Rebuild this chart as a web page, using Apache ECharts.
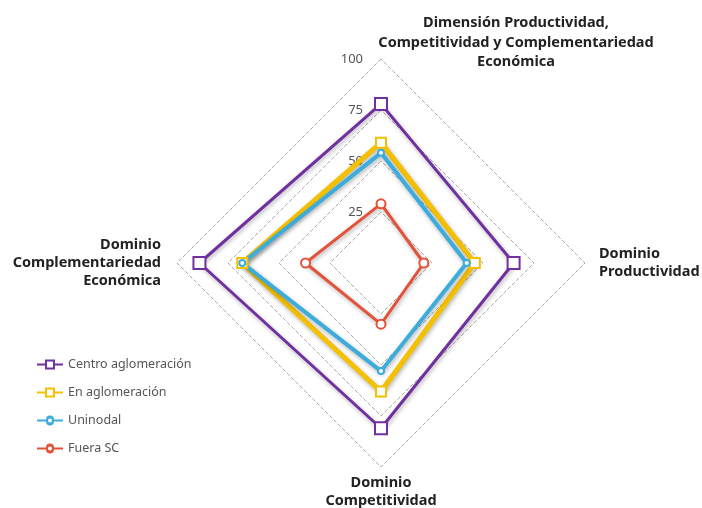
<!DOCTYPE html>
<html>
<head>
<meta charset="utf-8">
<script src="https://cdn.jsdelivr.net/npm/echarts@6/dist/echarts.min.js"></script>
<title>Radar dimensiones</title>
</head>
<body style="margin:0;background:#fff">
<div id="main" style="width:702px;height:508px;"></div>
<script type="text/javascript">
// ejes del radar (orden: arriba, izquierda, abajo, derecha)
var ejes = [
    'Dimensión Productividad,\nCompetitividad y Complementariedad\nEconómica',
    'Dominio\nComplementariedad\nEconómica',
    'Dominio\nCompetitividad',
    'Dominio\nProductividad'
];
var nombres = ['Centro aglomeración', 'En aglomeración', 'Uninodal', 'Fuera SC'];
var centro = [78, 89, 81, 65];
var enAglo = [59, 68, 63, 46];
var uninodal = [54, 68, 53, 42];
var fuera = [29, 37, 30, 21];
var colores = ['#7030a0', '#f5c000', '#3cacdc', '#e2533a'];

var myChart = echarts.init(document.getElementById('main'));

// icono leyenda: linea + cuadrado hueco / circulo hueco
var iconoCuadro = 'path://M0,5H8V1H18V5H26V7H18V11H8V7H0Z M10,3V9H16V3Z';
var iconoCirculo = 'path://M0,5H9A4,4 0 0 1 17,5H26V7H17A4,4 0 0 1 9,7H0Z M11,6A2,2 0 0 0 15,6A2,2 0 0 0 11,6Z';

// separacion propia de cada nombre de eje
var gaps = [-13, 16, 7, 14];
var rellenos = [[0, 0, 0, 270], [0, 0, 7, 0], [0, 0, 0, 0], [0, 0, 4, 0]];
var indicadores = ejes.map(function (e, i) {
    var ind = {
        name: e, max: 100, min: 0, nameGap: gaps[i],
        axisLabel: { show: i === 0 },
        nameTextStyle: { padding: rellenos[i] }
    };
    if (i === 0) {
        ind.nameMoveOverlap = false;
        ind.nameTextStyle.lineHeight = 19.5;
    }
    return ind;
});

var option = {
    legend: {
        orient: 'vertical',
        left: 32,
        top: 353,
        itemWidth: 26,
        itemHeight: 12,
        itemGap: 15,
        textStyle: { color: '#555', fontSize: 12.5, fontFamily: 'Noto Sans' },
        data: [
            { name: nombres[0], icon: iconoCuadro },
            { name: nombres[1], icon: iconoCuadro },
            { name: nombres[2], icon: iconoCirculo },
            { name: nombres[3], icon: iconoCirculo }
        ]
    },
    radar: {
        center: [381, 263],
        radius: 204,
        startAngle: 90,
        shape: 'polygon',
        splitNumber: 4,
        nameGap: 14,
        axisName: {
            color: '#222',
            fontWeight: 'bold',
            fontSize: 14.5,
            lineHeight: 18,
            fontFamily: 'Noto Sans'
        },
        axisLine: { show: false },
        axisTick: { show: false },
        splitArea: { show: false },
        splitLine: { lineStyle: { color: '#aaa', type: 'dashed', width: 1 } },
        axisLabel: {
            show: false,
            showMinLabel: false,
            color: '#555',
            fontSize: 13,
            fontFamily: 'Noto Sans',
            margin: 18
        },
        indicator: indicadores
    },
    series: [{
        type: 'radar',
        data: [
            {
                name: nombres[0], value: centro,
                symbol: 'emptyRect', symbolSize: 12,
                lineStyle: { color: colores[0], width: 3, shadowBlur: 4, shadowColor: 'rgba(0,0,0,0.3)', shadowOffsetX: 1, shadowOffsetY: 2 },
                itemStyle: { color: colores[0], borderWidth: 2.5 }
            },
            {
                name: nombres[1], value: enAglo,
                symbol: 'emptyRect', symbolSize: 10,
                lineStyle: { color: colores[1], width: 5, shadowBlur: 4, shadowColor: 'rgba(0,0,0,0.3)', shadowOffsetX: 1, shadowOffsetY: 2 },
                itemStyle: { color: colores[1], borderWidth: 2.5 }
            },
            {
                name: nombres[2], value: uninodal,
                symbol: 'emptyCircle', symbolSize: 6,
                lineStyle: { color: colores[2], width: 4, shadowBlur: 4, shadowColor: 'rgba(0,0,0,0.3)', shadowOffsetX: 1, shadowOffsetY: 2 },
                itemStyle: { color: colores[2], borderWidth: 1.5 }
            },
            {
                name: nombres[3], value: fuera,
                symbol: 'emptyCircle', symbolSize: 9,
                lineStyle: { color: colores[3], width: 3, shadowBlur: 4, shadowColor: 'rgba(0,0,0,0.3)', shadowOffsetX: 1, shadowOffsetY: 2 },
                itemStyle: { color: colores[3], borderWidth: 2.5 }
            }
        ]
    }]
};
myChart.setOption(option);
</script>
</body>
</html>
